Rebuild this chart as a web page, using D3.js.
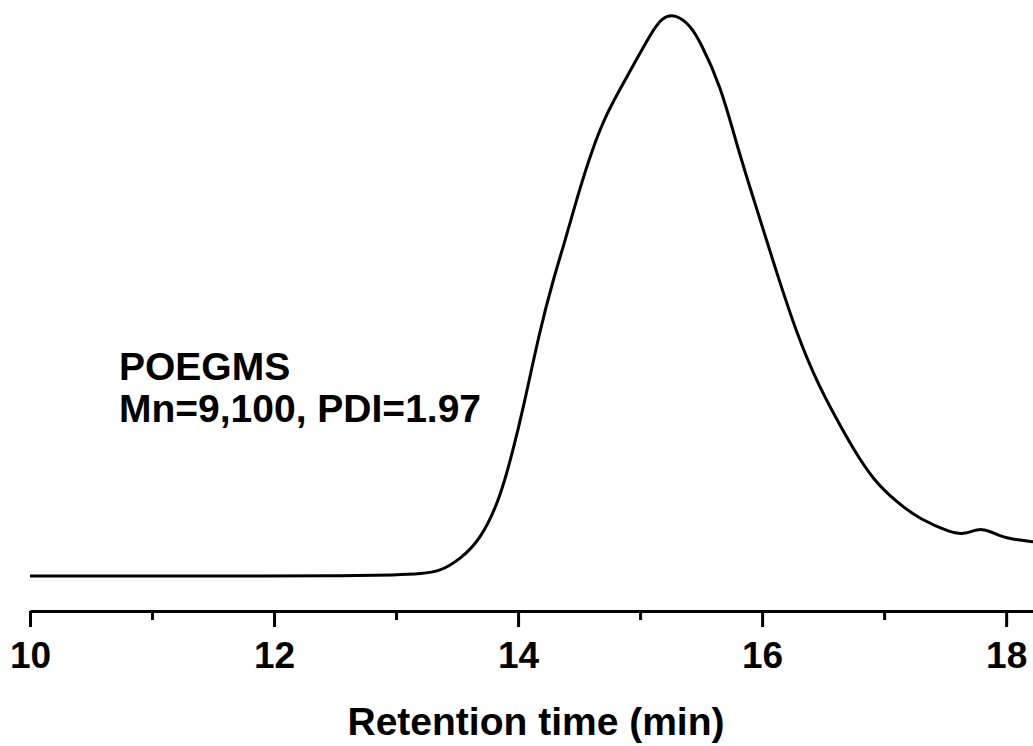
<!DOCTYPE html>
<html>
<head>
<meta charset="utf-8">
<script src="https://cdn.jsdelivr.net/npm/d3@7"></script>
<style>
  body { margin: 0; background: #fff; }
  text { font-family: "Liberation Sans", Arial, sans-serif; font-weight: bold; fill: #000; }
</style>
</head>
<body>
<svg id="chart" width="1033" height="746"></svg>
<script>
// retention time (min) and normalised detector signal
var times = [10, 11, 12, 12.5, 13.03, 13.2, 13.36, 13.52, 13.69, 13.85, 13.96, 14.04, 14.18, 14.29, 14.39, 14.48,
  14.61, 14.72, 14.84, 14.96, 15.08, 15.18, 15.29, 15.41, 15.49, 15.66, 15.80, 15.93, 16.11, 16.29, 16.45, 16.61,
  16.75, 16.91, 17.11, 17.30, 17.54, 17.66, 17.80, 17.95, 18.1, 18.22];
var signal = [0, 0, 0, 0, 0.002, 0.004, 0.008, 0.029, 0.064, 0.136, 0.225, 0.296, 0.439, 0.529, 0.6, 0.671,
  0.761, 0.82, 0.868, 0.915, 0.962, 0.995, 1.0, 0.98, 0.952, 0.873, 0.761, 0.671, 0.546, 0.427, 0.345, 0.279,
  0.225, 0.171, 0.130, 0.1, 0.078, 0.073, 0.088, 0.070, 0.064, 0.061];
var majorTicks = [10, 12, 14, 16, 18];
var minorTicks = [11, 13, 15, 17];
var labelLines = ["POEGMS", "Mn=9,100, PDI=1.97"];
var xTitle = "Retention time (min)";

var svg = d3.select("#chart");

var x = d3.scaleLinear().domain([10, 18.22]).range([30, 1033]);
var y = d3.scaleLinear().domain([0, 1]).range([576, 14]);
var axisY = 611;

var data = times.map(function(t, i){ return {t: t, v: signal[i]}; });

// the trace
var line = d3.line()
  .x(function(d){ return x(d.t); })
  .y(function(d){ return y(d.v); })
  .curve(d3.curveBasis);

svg.append("path")
  .datum(data)
  .attr("d", line)
  .attr("fill", "none")
  .attr("stroke", "#000")
  .attr("stroke-width", 3);

// bottom axis, major + minor ticks
var gMajor = svg.append("g")
  .attr("transform", "translate(0," + axisY + ")")
  .call(d3.axisBottom(x).tickValues(majorTicks).tickSize(16).tickSizeOuter(0).tickPadding(15)
    .tickFormat(d3.format("d")));

gMajor.select(".domain").attr("stroke-width", 3);
gMajor.selectAll(".tick line").attr("stroke-width", 3);
gMajor.selectAll(".tick text").style("font-size", "37px").attr("font-family", null);

var gMinor = svg.append("g")
  .attr("transform", "translate(0," + axisY + ")")
  .call(d3.axisBottom(x).tickValues(minorTicks).tickSize(9).tickSizeOuter(0).tickFormat(""));
gMinor.select(".domain").remove();
gMinor.selectAll(".tick line").attr("stroke-width", 3);

svg.append("text")
  .attr("x", 536)
  .attr("y", 735)
  .attr("text-anchor", "middle")
  .style("font-size", "39px")
  .text(xTitle);

// sample annotation
svg.selectAll(".note")
  .data(labelLines)
  .enter().append("text")
  .attr("class", "note")
  .attr("x", 119)
  .attr("y", function(d, i){ return 380 + i * 42; })
  .style("font-size", "39px")
  .text(function(d){ return d; });
</script>
</body>
</html>
